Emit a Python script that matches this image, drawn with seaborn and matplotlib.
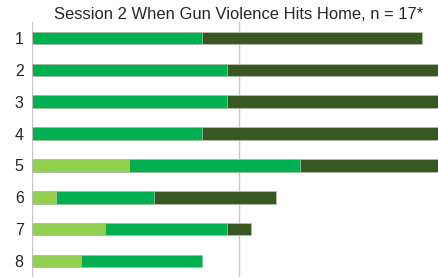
import numpy as np
import pandas as pd
import matplotlib
matplotlib.use("Agg")
import matplotlib.pyplot as plt
import seaborn as sns

n = 17
rows = ["1", "2", "3", "4", "5", "6", "7", "8"]
# respondent counts per segment (light / mid / dark green)
light = [0, 0, 0, 0, 4, 1, 3, 2]
mid = [7, 8, 8, 7, 7, 4, 5, 5]
dark = [9, 9, 9, 10, 6, 5, 1, 0]

colors = ["#92D050", "#00B050", "#385723"]

df = pd.DataFrame({"row": rows, "light": light, "mid": mid, "dark": dark})
pct = df[["light", "mid", "dark"]].div(n) * 100
cum = pct.cumsum(axis=1)

sns.set_style("white")
plt.rcParams["font.family"] = ["Liberation Sans", "DejaVu Sans"]

fig = plt.figure(figsize=(4.39, 2.77), dpi=100)
ax = fig.add_axes([32 / 439, 0, (446 - 32) / 439, 1 - 22 / 277])

# stacked via overlapping cumulative bars, drawn back to front
for col, c in zip(["dark", "mid", "light"], colors[::-1]):
    sns.barplot(x=cum[col], y=df["row"], orient="h", color=c, width=0.39,
                edgecolor="#b8c4b0", linewidth=0.5, saturation=1, ax=ax)

ax.set_xlim(0, 100)
ax.set_ylim(7.5, -0.5)
ax.set_xticks([0, 50, 100])
ax.set_xticklabels([])
ax.grid(axis="x", color="#c8c8c8", linewidth=1)
ax.set_axisbelow(True)
for s in ax.spines.values():
    s.set_visible(False)
ax.set_xlabel("")
ax.set_ylabel("")
ax.tick_params(axis="y", length=0, pad=6, labelsize=11.5)
ax.tick_params(axis="x", length=0)
ax.set_title("Session 2 When Gun Violence Hits Home, n = 17*", fontsize=11.9, pad=2)

fig.savefig("out.png", dpi=100)
